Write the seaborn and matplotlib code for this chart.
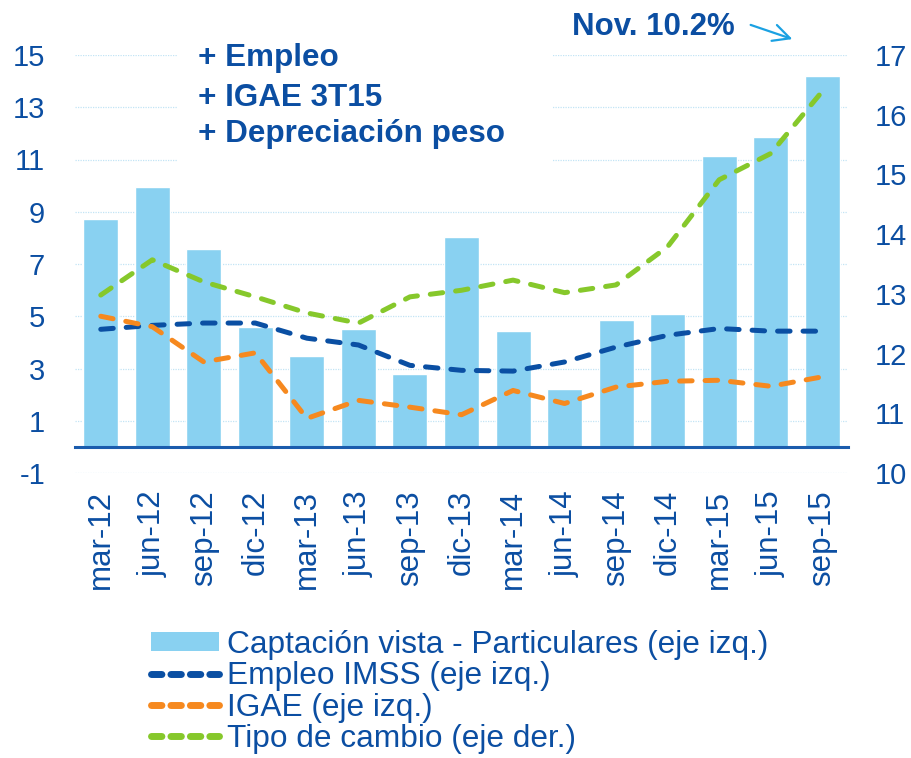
import numpy as np
import pandas as pd
import matplotlib
matplotlib.use("Agg")
import matplotlib.pyplot as plt
from matplotlib.patches import Rectangle, Patch, FancyArrowPatch
from matplotlib.lines import Line2D
import seaborn as sns

# ---- data ----
periods = ["mar-12", "jun-12", "sep-12", "dic-12", "mar-13", "jun-13", "sep-13", "dic-13",
           "mar-14", "jun-14", "sep-14", "dic-14", "mar-15", "jun-15", "sep-15"]
captacion = [8.72, 9.94, 7.57, 4.58, 3.47, 4.50, 2.78, 8.04, 4.44, 2.20, 4.85, 5.07, 11.13, 11.88, 14.18]
empleo = [4.50, 4.65, 4.74, 4.74, 4.16, 3.90, 3.12, 2.93, 2.90, 3.25, 3.82, 4.27, 4.53, 4.43, 4.43]
igae = [5.00, 4.60, 3.25, 3.60, 1.09, 1.78, 1.52, 1.23, 2.16, 1.66, 2.29, 2.51, 2.55, 2.32, 2.68]
tipo_cambio = [12.98, 13.57, 13.20, 12.95, 12.68, 12.51, 12.95, 13.06, 13.23, 13.02, 13.15, 13.79, 14.91, 15.35, 16.39]

labels = ["Captación vista - Particulares (eje izq.)", "Empleo IMSS (eje izq.)",
          "IGAE (eje izq.)", "Tipo de cambio (eje der.)"]
left_ticks = [-1, 1, 3, 5, 7, 9, 11, 13, 15]
right_ticks = [10, 11, 12, 13, 14, 15, 16, 17]
notes = ["+ Empleo", "+ IGAE 3T15", "+ Depreciación peso"]
nov_note = "Nov. 10.2%"

# ---- style ----
DARK = "#0B4EA2"
BAR = "#89D1F1"
C_EMP = "#0A4FA3"
C_IGAE = "#F6891F"
C_TC = "#86C82B"
GRID = "#C2E4F5"

sns.set_theme(style="white")
plt.rcParams["font.family"] = ["Liberation Sans", "DejaVu Sans"]
plt.rcParams["axes.unicode_minus"] = False

df = pd.DataFrame({"periodo": periods, "pos": np.arange(len(periods)),
                   "captacion": captacion, "empleo": empleo, "igae": igae, "tc": tipo_cambio})

fig = plt.figure(figsize=(9.11, 7.58), dpi=100)
ax = fig.add_axes([75/911, 1-473/758, 773/911, 418/758])
ax2 = ax.twinx()

sns.barplot(data=df, x="pos", y="captacion", ax=ax, color=BAR, saturation=1,
            width=0.68, native_scale=True, zorder=2)

dash_kw = dict(linewidth=3.6)
sns.lineplot(data=df, x="pos", y="empleo", ax=ax, color=C_EMP, zorder=3, **dash_kw)
sns.lineplot(data=df, x="pos", y="igae", ax=ax, color=C_IGAE, zorder=3, **dash_kw)
sns.lineplot(data=df, x="pos", y="tc", ax=ax2, color=C_TC, zorder=3, **dash_kw)
for l in ax.get_lines() + ax2.get_lines():
    l.set_dashes((2.5, 2.6))
    l.set_dash_capstyle("round")

ax.set_xlim(-0.5, len(periods) - 0.5)
ax.set_ylim(-1, 15)
ax2.set_ylim(10, 17)
ax.set_yticks(left_ticks)
ax2.set_yticks(right_ticks)
ax.set_xlabel("")
ax.set_ylabel("")
ax2.set_ylabel("")

for a in (ax, ax2):
    for s in ["left", "right", "top"]:
        a.spines[s].set_visible(False)
ax2.spines["bottom"].set_visible(False)
ax.spines["bottom"].set_position(("data", 0))
ax.spines["bottom"].set_color("#1A5CAD")
ax.spines["bottom"].set_linewidth(2.2)
ax.spines["bottom"].set_zorder(4)

# gridlines
for t in left_ticks:
    ax.axhline(t, color=GRID, linewidth=0.9, linestyle=(0, (1, 1)), zorder=0.5)

# x ticks
ax.set_xticks(np.arange(len(periods)))
ax.set_xticklabels(periods, rotation=90, fontsize=22.5, color=DARK)
ax.tick_params(axis="x", which="major", length=0, pad=31)
ax.set_xticks(np.arange(len(periods) + 1) - 0.5, minor=True)
ax.tick_params(axis="x", which="minor", length=8, width=2, color="#1A5CAD", direction="out")

ax.tick_params(axis="y", length=0, pad=21.5, labelsize=21, labelcolor=DARK)
ax2.tick_params(axis="y", length=0, pad=19, labelsize=21, labelcolor=DARK)

# annotation white box + text
ax.add_patch(Rectangle(((177-75)/773, (473-165)/418), (553-177)/773, 130/418,
                       transform=ax.transAxes, facecolor="white", edgecolor="none",
                       zorder=1, clip_on=False))
for txt, yp in zip(notes, [58, 98, 134]):
    ax.text((198-75)/773, (473-yp)/418, txt, transform=ax.transAxes, fontsize=22.6,
            fontweight="bold", color=DARK, va="center", ha="left", zorder=5)

fig.text(572/911, 1-27/758, nov_note, fontsize=22.5, fontweight="bold", color=DARK,
         va="center", ha="left")
fig.patches.append(FancyArrowPatch(
    (748/911, 1-24/758), (795/911, 1-40/758), transform=fig.transFigure,
    arrowstyle="->,head_length=12,head_width=6", color="#1BA1E2", linewidth=1.6,
    mutation_scale=1))

# legend
ls = (0, (1.5, 1.3))
handles = [Patch(facecolor=BAR, edgecolor="none"),
           Line2D([], [], color=C_EMP, linewidth=5, linestyle=ls, dash_capstyle="round"),
           Line2D([], [], color=C_IGAE, linewidth=5, linestyle=ls, dash_capstyle="round"),
           Line2D([], [], color=C_TC, linewidth=5, linestyle=ls, dash_capstyle="round")]
leg = fig.legend(handles, labels, loc="upper left", bbox_to_anchor=(151/911, 1-630/758),
                 frameon=False, handlelength=2.15, handleheight=0.55, handletextpad=0.26,
                 labelspacing=0.04, borderpad=0, borderaxespad=0, prop={"size": 22.8})
for t in leg.get_texts():
    t.set_color(DARK)

fig.savefig("out.png", dpi=100)
